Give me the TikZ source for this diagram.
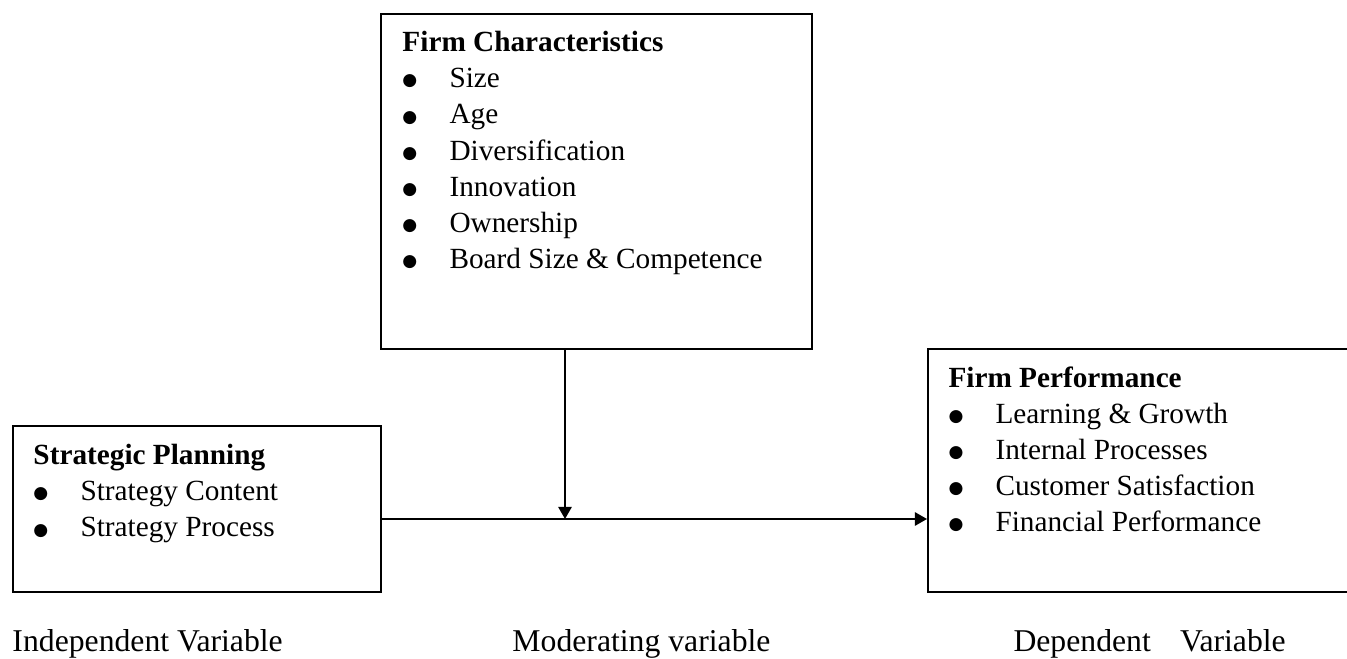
\documentclass[tikz,border=0pt]{standalone}
\usepackage{fontspec}
\setmainfont{Liberation Serif}
\newfontfamily\dotfont{DejaVu Sans}
\usepackage{tikz}
\usetikzlibrary{arrows.meta,positioning,calc}
\newcommand{\bitem}[1]{\makebox[19.3pt][l]{\raisebox{0.8pt}{\dotfont\fontsize{7}{7}\selectfont ●}}#1}
\tikzset{
    varbox/.style={rectangle,draw,line width=0.8pt,inner sep=0pt,anchor=north west},
    vartext/.style={anchor=north west,inner sep=0pt,align=left,font=\fontsize{12}{14.8}\selectfont},
    varlabel/.style={anchor=base west,inner sep=0pt,font=\fontsize{13}{15}\selectfont},
    varline/.style={-{Triangle[length=5pt,width=5.5pt]},line width=0.8pt}
}
\begin{document}
\begin{tikzpicture}[x=0.41pt,y=-0.41pt]
            \useasboundingbox (0,0) rectangle (1347,659);
            \node[varbox,minimum width=150.9pt,minimum height=68.1pt] (spbox) at (12,425) {};
            \node[varbox,minimum width=176.7pt,minimum height=137.4pt] (fcbox) at (380,13) {};
            \node[varbox,minimum width=205pt,minimum height=99.6pt] (fpbox) at (927,348) {};
            \node[vartext] (sptext) at (33,444) {\textbf{Strategic Planning}\\
                \bitem{Strategy Content}\\
                \bitem{Strategy Process}};
            \node[vartext] (fctext) at (402,31) {\textbf{Firm Characteristics}\\
                \bitem{Size}\\
                \bitem{Age}\\
                \bitem{Diversification}\\
                \bitem{Innovation}\\
                \bitem{Ownership}\\
                \bitem{Board Size \& Competence}};
            \node[vartext] (fptext) at (948,366) {\textbf{Firm Performance}\\
                \bitem{Learning \& Growth}\\
                \bitem{Internal Processes}\\
                \bitem{Customer Satisfaction}\\
                \bitem{Financial Performance}};
            \coordinate (junction) at (565,519);
            \draw[varline] (spbox.east |- junction) -- (fpbox.west |- junction);
            \draw[varline] (fcbox.south -| junction) -- (junction);
            \node[varlabel] (indep) at (12,651) {Independent Variable};
            \node[varlabel] (moder) at (512,651) {Moderating variable};
            \node[varlabel] (depen) at (1013,651) {Dependent\hspace{12pt}Variable};
        \end{tikzpicture}
\end{document}
